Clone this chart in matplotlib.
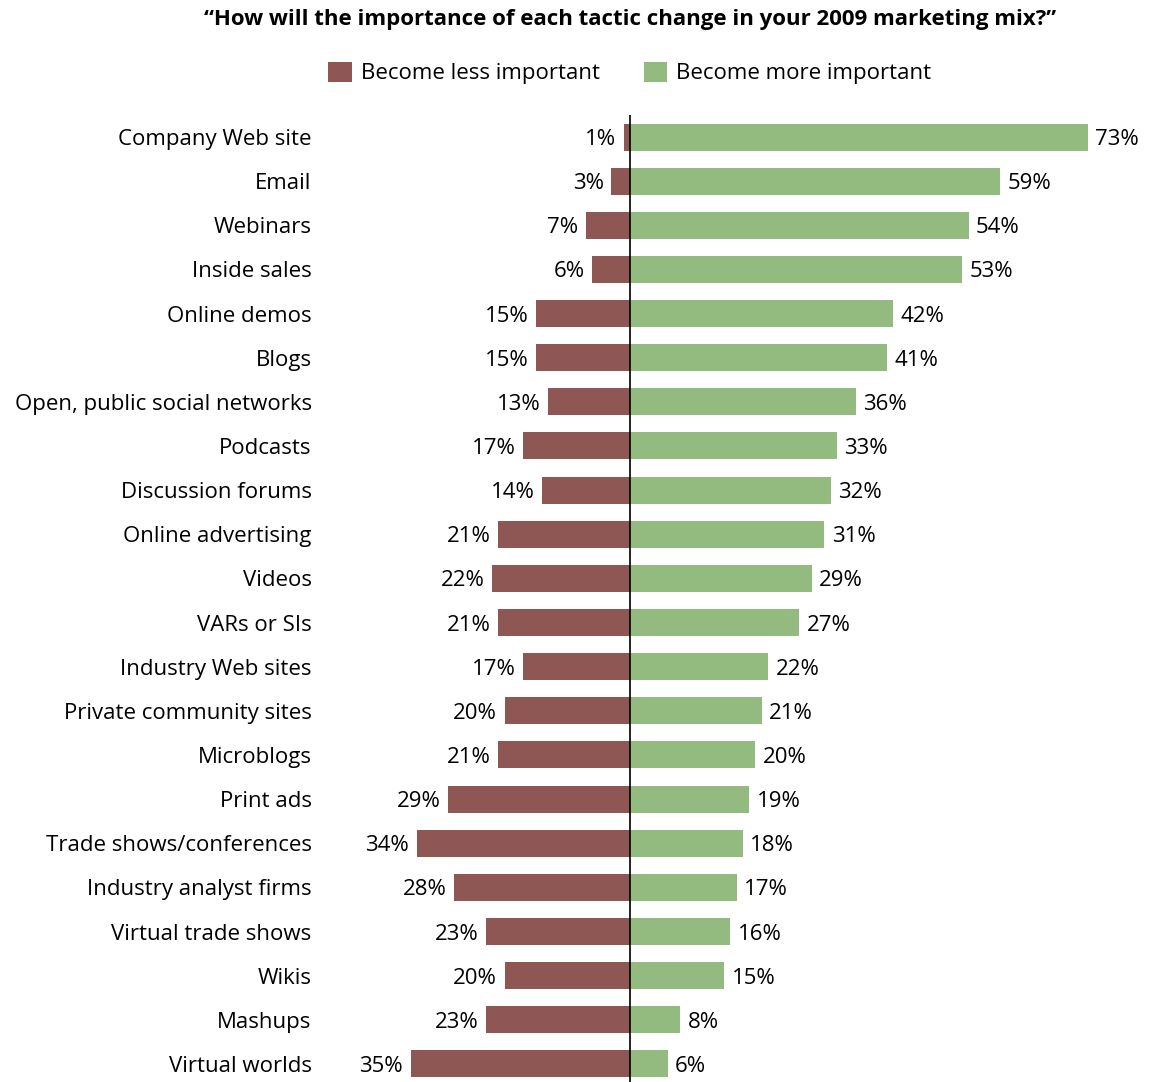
import matplotlib
matplotlib.use("Agg")
import matplotlib.pyplot as plt
from matplotlib.patches import Patch

categories = [
    "Company Web site", "Email", "Webinars", "Inside sales", "Online demos",
    "Blogs", "Open, public social networks", "Podcasts", "Discussion forums",
    "Online advertising", "Videos", "VARs or SIs", "Industry Web sites",
    "Private community sites", "Microblogs", "Print ads",
    "Trade shows/conferences", "Industry analyst firms", "Virtual trade shows",
    "Wikis", "Mashups", "Virtual worlds",
]
less_important = [1, 3, 7, 6, 15, 15, 13, 17, 14, 21, 22, 21, 17, 20, 21, 29,
                  34, 28, 23, 20, 23, 35]
more_important = [73, 59, 54, 53, 42, 41, 36, 33, 32, 31, 29, 27, 22, 21, 20,
                  19, 18, 17, 16, 15, 8, 6]

title = "\u201cHow will the importance of each tactic change in your 2009 marketing mix?\u201d"
legend_labels = ["Become less important", "Become more important"]

LESS_COLOR = "#8E5753"
MORE_COLOR = "#93BA7F"
FONT = "Open Sans"

W, H = 1149, 1082
fig = plt.figure(figsize=(W / 100, H / 100), dpi=100)

# axes geometry in pixels
ax_left_px = 320
center_px = 630
px_per_pct = 6.27
row_px = 44.14
top_px = 115
first_row_px = 137

ax = fig.add_axes([ax_left_px / W, 0, 1 - ax_left_px / W, 1 - top_px / H])
xmin = -(center_px - ax_left_px) / px_per_pct
xmax = (W - center_px) / px_per_pct
ax.set_xlim(xmin, xmax)
y_top = -(first_row_px - top_px) / row_px
y_bot = y_top + (H - top_px) / row_px
ax.set_ylim(y_bot, y_top)

ypos = list(range(len(categories)))
bar_h = 27 / row_px
ax.barh(ypos, [-v for v in less_important], height=bar_h, color=LESS_COLOR)
ax.barh(ypos, more_important, height=bar_h, color=MORE_COLOR)
ax.axvline(0, color="black", lw=1.2)

fs = 16
for y, lv, mv in zip(ypos, less_important, more_important):
    ax.text(-lv - 1.2, y, f"{lv}%", ha="right", va="center_baseline",
            fontsize=fs, family=FONT)
    ax.text(mv + 1.2, y, f"{mv}%", ha="left", va="center_baseline",
            fontsize=fs, family=FONT)

ax.set_yticks(ypos)
ax.set_yticklabels(categories, fontsize=fs, family=FONT)
ax.tick_params(axis="y", length=0, pad=6)
ax.set_xticks([])
for s in ax.spines.values():
    s.set_visible(False)

fig.text(center_px / W, 1 - 19 / H, title, ha="center", va="center",
         fontsize=16, fontweight="bold", family=FONT)

handles = [Patch(facecolor=LESS_COLOR), Patch(facecolor=MORE_COLOR)]
fig.legend(handles, legend_labels, loc="center", ncol=2,
           bbox_to_anchor=(center_px / W, 1 - 73 / H), frameon=False,
           prop={"family": FONT, "size": fs}, handlelength=1.05,
           handleheight=1.05, handletextpad=0.4, columnspacing=2.0)

fig.savefig("out.png", dpi=100)
